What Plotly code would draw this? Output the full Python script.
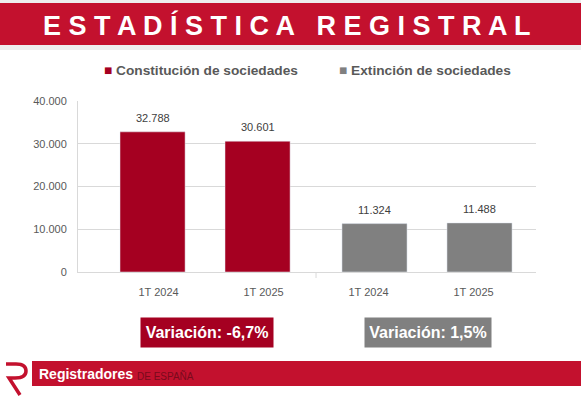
import plotly.graph_objects as go

# ---------------- data ----------------
periods = ["1T 2024", "1T 2025"]
constitucion = [32788, 30601]
extincion = [11324, 11488]
series_names = ["Constitución de sociedades", "Extinción de sociedades"]
variaciones = ["Variación: -6,7%", "Variación: 1,5%"]
title_text = "ESTADÍSTICA REGISTRAL"
y_ticks = [0, 10000, 20000, 30000, 40000]

# ---------------- style ----------------
RED_BAR = "#A50021"
GRAY_BAR = "#808080"
BANNER_RED = "#C3112E"
TXT = "#595959"
GRID = "#D9D9D9"
W, H = 581, 396
ML, MR, MT, MB = 78, 45, 101, 124
PW, PH = W - ML - MR, H - MT - MB


def px(x):
    return (x - ML) / PW


def py(y):
    return (H - MB - y) / PH


cats = ["c_" + p for p in periods] + ["e_" + p for p in periods]
ticklabels = periods + periods
BAR_W = 0.62
OFF1, OFF2 = -0.367, -0.253

fig = go.Figure()
fig.add_bar(x=cats[:2], y=constitucion, name=series_names[0], marker_color=RED_BAR,
            width=BAR_W, offset=OFF1, showlegend=False)
fig.add_bar(x=cats[2:], y=extincion, name=series_names[1], marker_color=GRAY_BAR,
            width=BAR_W, offset=OFF2, showlegend=False)

annotations = []
# data labels
for i, v in enumerate(constitucion + extincion):
    off = OFF1 if i < 2 else OFF2
    annotations.append(dict(x=i + off + BAR_W / 2, y=v, xref="x", yref="y",
                            text=f"{v:,}".replace(",", "."), showarrow=False,
                            xanchor="center", yanchor="bottom", yshift=6,
                            font=dict(family="Liberation Sans, Arial", size=11, color="#404040")))

# legend (as text)
annotations.append(dict(x=px(102), y=py(71), xref="paper", yref="paper", xanchor="left",
                        yanchor="middle", showarrow=False,
                        text=f'<span style="color:{RED_BAR}">■</span> <b>{series_names[0]}</b>',
                        font=dict(family="Liberation Sans, Arial", size=13.7, color=TXT)))
annotations.append(dict(x=px(337), y=py(71), xref="paper", yref="paper", xanchor="left",
                        yanchor="middle", showarrow=False,
                        text=f'<span style="color:{GRAY_BAR}">■</span> <b>{series_names[1]}</b>',
                        font=dict(family="Liberation Sans, Arial", size=13.7, color=TXT)))

# variation boxes
for cx, txt, col, wd in [(207, variaciones[0], RED_BAR, 124), (428, variaciones[1], GRAY_BAR, 118)]:
    annotations.append(dict(x=px(cx), y=py(332.5), xref="paper", yref="paper", showarrow=False,
                            xanchor="center", yanchor="middle",
                            text=f"<b>{txt}</b>", bgcolor=col, borderpad=4, width=wd, height=21,
                            font=dict(family="Liberation Sans, Arial", size=16, color="white")))

# header title
spaced = "   ".join(" ".join(w) for w in title_text.split(" "))
annotations.append(dict(x=px(287), y=py(25), xref="paper", yref="paper", showarrow=False,
                        xanchor="center", yanchor="middle",
                        text=f"<b>{spaced}</b>",
                        font=dict(family="Liberation Sans, Arial", size=27, color="white")))

# footer texts
annotations.append(dict(x=px(37), y=py(374), xref="paper", yref="paper", xanchor="left",
                        yanchor="middle", showarrow=False,
                        text="<b>Registradores</b>",
                        font=dict(family="Liberation Sans, Arial", size=14, color="white")))
annotations.append(dict(x=px(135), y=py(375.5), xref="paper", yref="paper", xanchor="left",
                        yanchor="middle", showarrow=False, text="DE ESPAÑA",
                        font=dict(family="Liberation Sans, Arial", size=10, color="#7A0A1C")))

shapes = [
    # header band
    dict(type="rect", xref="paper", yref="paper", x0=px(0), x1=px(W), y0=py(0), y1=py(50),
         fillcolor="#EEEEEE", line_width=0, layer="below"),
    dict(type="rect", xref="paper", yref="paper", x0=px(0), x1=px(W), y0=py(3), y1=py(45),
         fillcolor=BANNER_RED, line_width=0, layer="below"),
    # footer band
    dict(type="rect", xref="paper", yref="paper", x0=px(32), x1=px(W), y0=py(361), y1=py(386),
         fillcolor=BANNER_RED, line_width=0, layer="below"),
    # logo
    dict(type="path", xref="paper", yref="paper",
         path=(f"M {px(6)},{py(364)} L {px(16)},{py(364)} "
               f"Q {px(26)},{py(364)} {px(26)},{py(371)} "
               f"Q {px(26)},{py(378)} {px(15)},{py(378)} L {px(9)},{py(378)} "
               f"L {px(20)},{py(395)}"),
         line=dict(color=BANNER_RED, width=3.5)),
    # group separator tick
    dict(type="line", xref="x", yref="paper", x0=1.5, x1=1.5, y0=0, y1=py(278),
         line=dict(color=GRID, width=1)),
]

fig.update_layout(
    width=W, height=H,
    margin=dict(l=ML, r=MR, t=MT, b=MB),
    paper_bgcolor="white", plot_bgcolor="white",
    barmode="overlay",
    separators=",.",
    annotations=annotations,
    shapes=shapes,
    hovermode=False,
    font=dict(family="Liberation Sans, Arial", color=TXT),
)
fig.update_xaxes(type="category", categoryorder="array", categoryarray=cats,
                 tickvals=cats, ticktext=ticklabels, range=[-0.767, 3.595],
                 showline=True, linecolor=GRID, linewidth=1, ticks="",
                 showgrid=False, ticklabelstandoff=10,
                 tickfont=dict(size=11, color=TXT))
fig.update_yaxes(range=[0, 40000], tickvals=y_ticks, tickformat=",d",
                 showgrid=True, gridcolor=GRID, gridwidth=1,
                 showline=True, linecolor=GRID, linewidth=1, ticks="",
                 zeroline=False, ticklabelstandoff=8,
                 tickfont=dict(size=11, color=TXT))

fig.write_html("out.html", config={"displayModeBar": False},
               post_script="document.body.style.margin='0';document.body.style.padding='0';")
